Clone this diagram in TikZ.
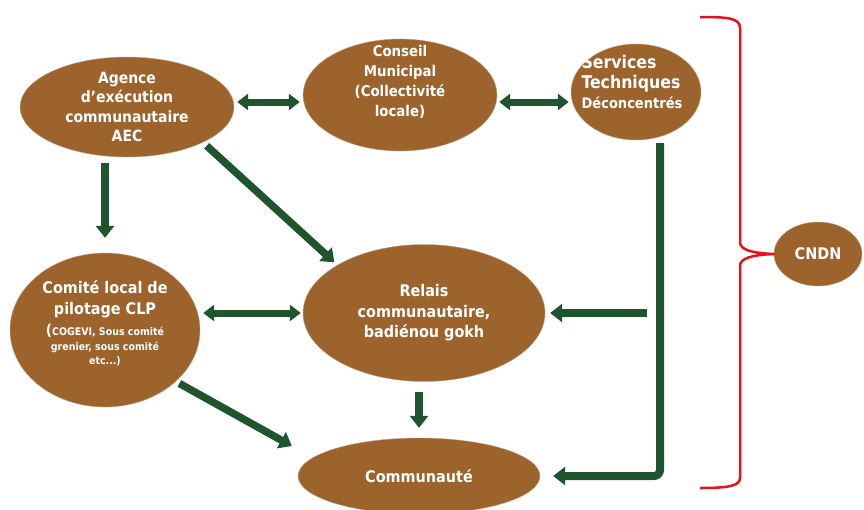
\documentclass[tikz,border=0pt]{standalone}
\usepackage{fontspec}
\setmainfont{DejaVu Sans Condensed}
\usetikzlibrary{arrows.meta, shapes.geometric}
\definecolor{nodebrown}{RGB}{156, 99, 45}
\definecolor{flowgreen}{RGB}{30, 84, 46}
\definecolor{bracered}{RGB}{232, 16, 28}
\newcommand\smalltxt{\fontsize{10.5}{12}\selectfont}

\tikzset{
  bubble/.style={ellipse, fill=nodebrown, draw=nodebrown!60!white, thin,
    text=white, align=center, inner sep=0pt,
    font=\bfseries\fontsize{15.5}{19.5}\selectfont},
  caption/.style={text=white, align=center, inner sep=0pt,
    font=\bfseries\fontsize{15.5}{19.5}\selectfont},
  flow/.style={draw=flowgreen, line width=7.5pt, -{Triangle[width=18pt,length=12pt]}},
  biflow/.style={draw=flowgreen, line width=7pt,
    {Triangle[width=16pt,length=11pt]}-{Triangle[width=16pt,length=11pt]}},
  bracket/.style={draw=bracered, line width=2.5pt, line join=round}
}

\begin{document}
\begin{tikzpicture}[x=1pt, y=-1pt]
  \useasboundingbox (0,0) rectangle (864,509);

  % actors
  \node[bubble, minimum width=214pt, minimum height=100pt] (aec) at (127,107)
    {Agence\\d’exécution\\communautaire\\AEC};
  \node[bubble, minimum width=194pt, minimum height=112pt,
    label={[caption, yshift=13pt, font=\bfseries\fontsize{14.8}{20}\selectfont]center:Conseil\\Municipal\\(Collectivité\\locale)}]
    (cm) at (400,95) {};
  \node[bubble, minimum width=130pt, minimum height=96pt,
    label={[caption, align=left, xshift=-4pt, yshift=10pt, font=\bfseries\fontsize{17.5}{20}\selectfont]center:Services\\Techniques\\{\fontsize{14.5}{20}\selectfont Déconcentrés}}]
    (std) at (636,92) {};
  \node[bubble, minimum width=190pt, minimum height=154pt,
    label={[caption, yshift=7pt, font=\bfseries\fontsize{16}{21}\selectfont]center:Comité local de\\pilotage CLP\\{\smalltxt{\fontsize{15}{15}\selectfont(}COGEVI, Sous comité}\\[-6pt]{\smalltxt grenier, sous comité}\\[-7pt]{\smalltxt etc...)}}]
    (clp) at (105,330) {};
  \node[bubble, minimum width=242pt, minimum height=137pt,
    font=\bfseries\fontsize{16}{20.5}\selectfont] (relais) at (424,313)
    {Relais\\communautaire,\\badiénou gokh};
  \node[bubble, minimum width=242pt, minimum height=76pt,
    font=\bfseries\fontsize{16}{20}\selectfont] (comm) at (419,476) {Communauté};
  \node[bubble, minimum width=88pt, minimum height=64pt,
    font=\bfseries\fontsize{16}{20}\selectfont] (cndn) at (818,254) {CNDN};

  % links
  \draw[biflow, shorten <=3pt, shorten >=3pt] ([yshift=5pt]aec.east) -- ([yshift=5pt]aec.east -| cm.west);
  \draw[biflow, shorten <=2pt, shorten >=2pt] ([yshift=-7pt]cm.east) -- ([yshift=-7pt]cm.east -| std.west);
  \draw[flow, shorten <=6pt, shorten >=15pt] (aec.south -| clp.north) -- (clp.north);
  \draw[flow, shorten <=5pt, shorten >=4pt] (aec.-25) -- (relais.151);
  \draw[biflow, shorten <=3pt, shorten >=2pt] (relais.west -| clp.east) -- (relais.west);
  \draw[flow, shorten <=4pt] (clp.-36) -- ([shift={(-6,-30)}]comm.west);
  \draw[flow, shorten <=10pt, shorten >=10pt] (comm.north |- relais.south) -- (comm.north);

  \coordinate (trunk) at ([xshift=24pt]std.south);
  \draw[flow, line width=8pt, rounded corners=6pt, shorten <=3pt, shorten >=13pt]
    (trunk) -- (trunk |- comm.east) -- (comm.east);
  \draw[flow, shorten >=5pt] ([xshift=-13pt]trunk |- relais.east) -- (relais.east);

  % brace towards CNDN
  \draw[bracket] (700,17) .. controls (728,17) and (740,18) .. (740,28) -- (740,242)
    .. controls (740,250) and (752,253) .. (cndn.west)
    .. controls (752,255) and (740,258) .. (740,266) -- (740,478)
    .. controls (740,486) and (728,488) .. (700,488);
\end{tikzpicture}
\end{document}
